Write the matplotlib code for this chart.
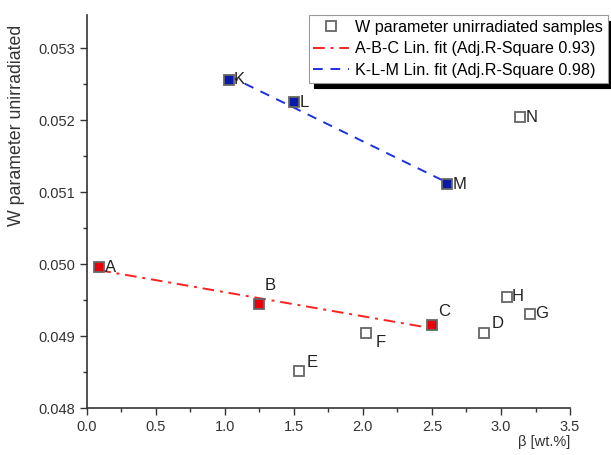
import numpy as np
import matplotlib.pyplot as plt
from matplotlib.ticker import MultipleLocator, FormatStrFormatter

plt.rcParams['font.family'] = ['Liberation Sans', 'DejaVu Sans']

# data
labels = ['A', 'B', 'C', 'D', 'E', 'F', 'G', 'H', 'K', 'L', 'M', 'N']
beta = [0.09, 1.25, 2.50, 2.88, 1.54, 2.02, 3.21, 3.04, 1.03, 1.50, 2.61, 3.14]
w = [0.04996, 0.04944, 0.04915, 0.04905, 0.04852, 0.04904, 0.04931, 0.04955,
     0.05256, 0.05225, 0.05111, 0.05204]
group_abc = ['A', 'B', 'C']
group_klm = ['K', 'L', 'M']
# label offsets in pixels (dx, dy up)
offsets = {'A': (11, 0), 'B': (11, 19), 'C': (12, 14), 'D': (13, 9), 'E': (13, 8),
           'F': (15, -9), 'G': (12, 0), 'H': (11, 0), 'K': (10, 0), 'L': (10, 0),
           'M': (12, 0), 'N': (11, 0)}

fig = plt.figure(figsize=(6.11, 4.55), dpi=100)
ax = fig.add_axes([0.142, 0.103, 0.791, 0.864])

red = '#e8000b'
blue = '#0a1aa8'

for lab, x, y in zip(labels, beta, w):
    if lab in group_abc:
        fc = red
    elif lab in group_klm:
        fc = blue
    else:
        fc = 'white'
    ax.plot(x, y, 's', ms=7, mfc=fc, mec='#666666', mew=1.3, zorder=3)
    dx, dy = offsets[lab]
    ax.annotate(lab, (x, y), xytext=(dx * 0.72, dy * 0.72), textcoords='offset points',
                ha='center', va='center', fontsize=12, color='#222222')

# linear fits
def fit_line(names):
    xs = np.array([beta[labels.index(n)] for n in names])
    ys = np.array([w[labels.index(n)] for n in names])
    k, b = np.polyfit(xs, ys, 1)
    xx = np.array([xs.min(), xs.max()])
    return xx, k * xx + b

xx, yy = fit_line(group_abc)
ax.plot(xx, yy, color='#ff2020', ls=(0, (6, 3, 1.5, 3)), lw=1.4, zorder=2)
xx, yy = fit_line(group_klm)
ax.plot(xx, yy, color='#2030e0', ls=(0, (5, 4)), lw=1.4, zorder=2)

ax.set_xlim(0, 3.5)
ax.set_ylim(0.048, 0.05346)
ax.xaxis.set_major_locator(MultipleLocator(0.5))
ax.xaxis.set_minor_locator(MultipleLocator(0.25))
ax.yaxis.set_major_locator(MultipleLocator(0.001))
ax.yaxis.set_minor_locator(MultipleLocator(0.0005))
ax.xaxis.set_major_formatter(FormatStrFormatter('%.1f'))
ax.yaxis.set_major_formatter(FormatStrFormatter('%.3f'))
ax.spines['top'].set_visible(False)
ax.spines['right'].set_visible(False)
for s in ['left', 'bottom']:
    ax.spines[s].set_color('#333333')
    ax.spines[s].set_linewidth(1.2)
ax.tick_params(which='major', direction='out', length=5, width=1, colors='#333333',
               labelsize=10.5, labelcolor='#333333')
ax.tick_params(which='minor', direction='out', length=3, width=1, colors='#333333')

ax.set_ylabel('W parameter unirradiated', fontsize=12.8, color='#333333')
ax.yaxis.set_label_coords(-0.128, 0.72)
ax.set_xlabel('β [wt.%]', fontsize=10.5, color='#333333', loc='right', labelpad=1)

h1, = ax.plot([], [], 's', ms=7, mfc='white', mec='#666666', mew=1.3)
h2, = ax.plot([], [], color='#ff2020', ls=(0, (6, 3, 1.5, 3)), lw=1.4)
h3, = ax.plot([], [], color='#2030e0', ls=(0, (5, 4)), lw=1.4)
leg = fig.legend([h1, h2, h3],
                 ['W parameter unirradiated samples',
                  'A-B-C Lin. fit (Adj.R-Square 0.93)',
                  'K-L-M Lin. fit (Adj.R-Square 0.98)'],
                 loc='upper right', bbox_to_anchor=(0.995, 0.967), fontsize=11.6,
                 frameon=True, fancybox=False,
                 shadow={'color': 'black', 'alpha': 1, 'ox': 4, 'oy': -4},
                 handlelength=2.2, handletextpad=0.4, borderpad=0.3, labelspacing=0.4,
                 borderaxespad=0)
leg.get_frame().set_edgecolor('#999999')
leg.get_frame().set_linewidth(0.8)

fig.savefig('out.png', dpi=100)
